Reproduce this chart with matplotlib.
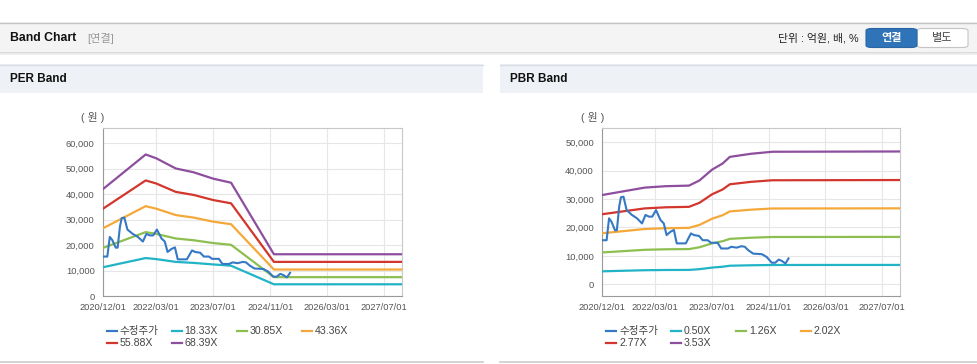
import pandas as pd
import matplotlib
matplotlib.use("Agg")
import matplotlib.pyplot as plt
from matplotlib.patches import Rectangle, FancyBboxPatch
from matplotlib.lines import Line2D

plt.rcParams["font.family"] = ["Liberation Sans", "Noto Sans CJK KR"]

# ── Data ──────────────────────────────────────────────────────────────────────
price_dates = ["2020-12-01", "2021-01-07", "2021-01-28", "2021-02-18", "2021-03-20",
               "2021-04-05", "2021-04-25", "2021-05-10", "2021-06-01", "2021-06-28",
               "2021-08-12", "2021-09-25", "2021-11-07", "2021-12-07", "2022-01-05",
               "2022-02-03", "2022-03-07", "2022-04-15", "2022-05-13", "2022-06-06",
               "2022-07-10", "2022-08-08", "2022-09-01", "2022-10-06", "2022-11-18",
               "2023-01-01", "2023-01-28", "2023-03-12", "2023-04-12", "2023-05-25",
               "2023-06-22", "2023-08-18", "2023-09-18", "2023-11-15", "2023-12-13",
               "2024-01-27", "2024-03-10", "2024-04-07", "2024-05-07", "2024-06-18",
               "2024-09-01", "2024-10-13", "2024-11-25", "2024-12-25", "2025-01-24",
               "2025-02-21", "2025-03-22", "2025-04-18"]
price = [15500, 15500, 23200, 22000, 19000, 19000, 27300, 30600, 30800, 26100,
         24400, 23200, 21400, 24400, 23800, 23800, 26100, 22600, 21400, 17300,
         18500, 19100, 14400, 14400, 14400, 17900, 17300, 17000, 15500, 15500,
         14600, 14600, 12600, 12600, 13200, 12900, 13400, 13200, 12000, 10800,
         10600, 9600, 7600, 7600, 8700, 8200, 7300, 9100]

per_dates = ["2020-12-01", "2021-12-01", "2022-03-01", "2022-08-15", "2023-01-15",
             "2023-07-01", "2023-12-01", "2024-12-01", "2027-12-01"]
per_labels = ["18.33X", "30.85X", "43.36X", "55.88X", "68.39X"]
per_18 = [11300, 14900, 14500, 13400, 13000, 12400, 11900, 4600, 4600]
per_30 = [18900, 25100, 24400, 22600, 21900, 20800, 20100, 7400, 7400]
per_43 = [26600, 35300, 34300, 31800, 30800, 29200, 28200, 10400, 10400]
per_55 = [34300, 45400, 44200, 40900, 39700, 37700, 36400, 13400, 13400]
per_68 = [42000, 55600, 54100, 50100, 48600, 46100, 44500, 16400, 16400]

pbr_dates = ["2020-12-01", "2021-06-01", "2021-12-01", "2022-06-01", "2022-12-15",
             "2023-03-15", "2023-07-01", "2023-10-01", "2023-12-01", "2024-06-01",
             "2024-12-01", "2027-12-01"]
pbr_labels = ["0.50X", "1.26X", "2.02X", "2.77X", "3.53X"]
pbr_050 = [4580, 4770, 4960, 5040, 5070, 5330, 5880, 6200, 6540, 6700, 6800, 6820]
pbr_126 = [11210, 11670, 12140, 12320, 12390, 13030, 14390, 15170, 15990, 16390, 16640, 16670]
pbr_202 = [17960, 18700, 19450, 19730, 19850, 20880, 23050, 24310, 25630, 26250, 26660, 26710]
pbr_277 = [24650, 25670, 26690, 27080, 27240, 28650, 31640, 33360, 35170, 36030, 36580, 36660]
pbr_353 = [31400, 32700, 34000, 34500, 34700, 36500, 40300, 42500, 44800, 45900, 46600, 46700]

x_ticks = ["2020/12/01", "2022/03/01", "2023/07/01", "2024/11/01", "2026/03/01", "2027/07/01"]
price_label = "수정주가"

COLORS = ["#3578C4", "#21B3C6", "#8DBE50", "#F5A83A", "#D2362C", "#8E4E9E"]

# ── Figure in pixel coordinates ──────────────────────────────────────────────
W, H = 978, 364
fig = plt.figure(figsize=(W / 100, H / 100), dpi=100)


def fx(x):
    return x / W


def fy(y):
    return 1 - y / H


def rect(x0, y0, x1, y1, color, **kw):
    fig.patches.append(Rectangle((fx(x0), fy(y1)), fx(x1) - fx(x0), fy(y0) - fy(y1),
                                 transform=fig.transFigure, facecolor=color,
                                 edgecolor="none", **kw))


def hline(x0, x1, y, color, lw=1.0):
    fig.lines.append(Line2D([fx(x0), fx(x1)], [fy(y), fy(y)],
                            transform=fig.transFigure, color=color, lw=lw))


# top header
rect(0, 22, W, 52, "#f4f4f4")
hline(0, W, 22.5, "#c4c4c4", 1.0)
hline(0, W, 52.5, "#d6d6d6", 1.2)
hline(0, W, 54, "#ececec", 1.2)
fig.text(fx(10), fy(38), "Band Chart", fontsize=8.8, fontweight="bold",
         color="#111111", va="center")
fig.text(fx(87), fy(38), "[연결]", fontsize=8, color="#999999", va="center")
fig.text(fx(859), fy(38.5), "단위 : 억원, 배, %", fontsize=7.8, color="#222222",
         va="center", ha="right")
fig.patches.append(FancyBboxPatch((fx(917), fy(47.5)), fx(968) - fx(917), fy(28.5) - fy(47.5),
                                  boxstyle="round,pad=0,rounding_size=0.006",
                                  transform=fig.transFigure, facecolor="white",
                                  edgecolor="#c4c4c4", lw=0.8))
fig.patches.append(FancyBboxPatch((fx(866), fy(47.5)), fx(917) - fx(866), fy(28.5) - fy(47.5),
                                  boxstyle="round,pad=0,rounding_size=0.006",
                                  transform=fig.transFigure, facecolor="#2f73b8",
                                  edgecolor="#2a66a3", lw=0.8))
fig.text(fx(891.5), fy(38.5), "연결", fontsize=8, fontweight="bold", color="white",
         ha="center", va="center")
fig.text(fx(942.5), fy(38.5), "별도", fontsize=8, color="#444444",
         ha="center", va="center")

# panel headers and bottom lines
for (px0, px1, title) in [(0, 483, "PER Band"), (500, W, "PBR Band")]:
    rect(px0, 64, px1, 93, "#eef2f6")
    hline(px0, px1, 64.5, "#d8dde3", 1.0)
    hline(px0, px1, 361.5, "#cccccc", 1.2)
    fig.text(fx(px0 + 10), fy(79.5), title, fontsize=8.5, fontweight="bold",
             color="#111111", va="center")


def band_panel(left, right, ylim, yticks, band_dates, bands, labels):
    ax = fig.add_axes([fx(left), fy(296), fx(right) - fx(left), fy(128) - fy(296)])
    ax.plot(pd.to_datetime(price_dates), price, color=COLORS[0], lw=1.5, zorder=5)
    bd = pd.to_datetime(band_dates)
    for vals, c in zip(bands, COLORS[1:]):
        ax.plot(bd, vals, color=c, lw=1.6, zorder=4)
    ax.set_xlim(pd.Timestamp("2020-12-01"), pd.Timestamp("2027-12-01"))
    ax.set_ylim(*ylim)
    ax.set_yticks(yticks)
    ax.set_yticklabels([f"{v:,}" for v in yticks])
    ax.set_xticks(pd.to_datetime(x_ticks))
    ax.set_xticklabels(x_ticks)
    ax.grid(True, color="#e6e6e6", lw=0.8)
    ax.set_axisbelow(True)
    ax.tick_params(length=0, labelsize=6.7, labelcolor="#555555", pad=6)
    ax.tick_params(axis="x", pad=5)
    for s in ax.spines.values():
        s.set_color("#c8c8c8")
    ax.spines["left"].set_color("#9a9a9a")
    ax.spines["bottom"].set_color("#9a9a9a")
    fig.text(fx(left - 10), fy(118), "( 원 )", fontsize=7.8, color="#555555",
             ha="center", va="center")

    # legend laid out as in the reference: 4 columns, 65px apart
    names = [price_label] + labels
    for i, (name, c) in enumerate(zip(names, COLORS)):
        row, col = divmod(i, 4)
        x0 = left + 3.7 + 65 * col
        y0 = 330.7 + 12.6 * row
        fig.lines.append(Line2D([fx(x0), fx(x0 + 10)], [fy(y0), fy(y0)],
                                transform=fig.transFigure, color=c, lw=1.6))
        fig.text(fx(x0 + 13), fy(y0), name, fontsize=7.6, color="#444444",
                 va="center")
    return ax


band_panel(103, 402, (0, 66000), list(range(0, 60001, 10000)), per_dates,
           [per_18, per_30, per_43, per_55, per_68], per_labels)
band_panel(602.3, 900, (-4100, 54950), list(range(0, 50001, 10000)), pbr_dates,
           [pbr_050, pbr_126, pbr_202, pbr_277, pbr_353], pbr_labels)

fig.savefig("out.png", dpi=100, facecolor="white")
plt.close(fig)
